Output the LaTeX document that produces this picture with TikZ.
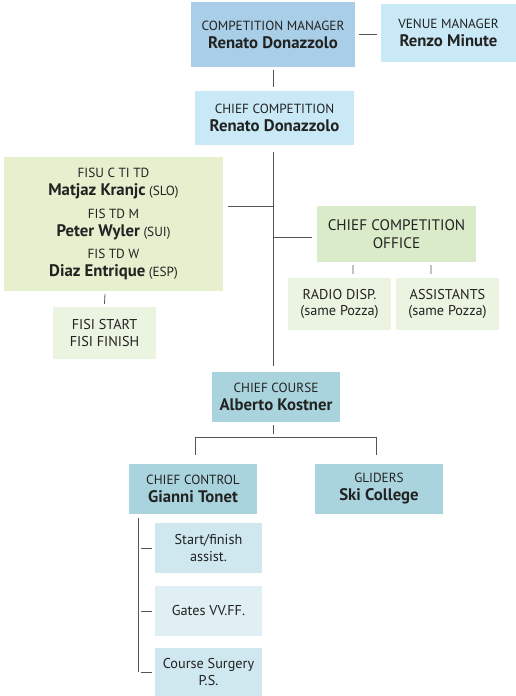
\documentclass[tikz,border=0pt]{standalone}
\usepackage{fontspec}
\setmainfont{PT Sans}
\usetikzlibrary{positioning}
\definecolor{txt}{HTML}{222222}
\definecolor{ln}{HTML}{555555}
\definecolor{cmblue}{HTML}{A8CFE7}
\definecolor{lightblue}{HTML}{C9E9F6}
\definecolor{fisgreen}{HTML}{E6F0CF}
\definecolor{ccogreen}{HTML}{DAEBC9}
\definecolor{palegreen}{HTML}{EBF3E1}
\definecolor{teal}{HTML}{AAD4DD}
\definecolor{paleteal}{HTML}{CFE7EE}
\definecolor{paleteal2}{HTML}{DFEFF4}
\newcommand{\nm}[1]{{\fontsize{16.8}{18}\selectfont\bfseries #1}}
\tikzset{
  box/.style={rectangle, inner sep=0pt, align=center, text=txt,
              font=\fontsize{13.3}{18}\selectfont},
  small/.style={font=\fontsize{14.3}{17}\selectfont},
  conn/.style={draw=ln, line width=0.8pt}
}

\begin{document}
\begin{tikzpicture}[x=1bp,y=-1bp]
   \useasboundingbox (0,0) rectangle (516,696);
   \node[box,fill=cmblue,minimum width=164bp,minimum height=65bp] (cm) at (273,34.5)
        {COMPETITION MANAGER\\ \nm{Renato Donazzolo}};
   \node[box,fill=lightblue,minimum width=135bp,minimum height=58bp] (vm) at (448.5,33)
        {VENUE MANAGER\\ \nm{Renzo Minute}};
   \node[box,fill=lightblue,minimum width=159bp,minimum height=54bp] (cc) at (274.5,118)
        {CHIEF COMPETITION\\ \nm{Renato Donazzolo}};
   \node[box,fill=fisgreen,minimum width=219bp,minimum height=134bp] (fisu) at (113.5,224)
        {FISU C TI TD\\ \nm{Matjaz Kranjc} (SLO)\\[5bp]
         FIS TD M\\ \nm{Peter Wyler} (SUI)\\[5bp]
         FIS TD W\\ \nm{Diaz Entrique} (ESP)};
   \node[box,small,fill=palegreen,minimum width=103bp,minimum height=52bp] (fisi) at (104.5,333)
        {FISI START\\ FISI FINISH};
   \node[box,fill=ccogreen,minimum width=159bp,minimum height=56bp,
         font=\fontsize{15.3}{18}\selectfont] (cco) at (396.5,234)
        {CHIEF COMPETITION\\ OFFICE};
   \node[box,small,fill=palegreen,minimum width=103bp,minimum height=52bp] (radio) at (339.5,304)
        {RADIO DISP.\\ (same Pozza)};
   \node[box,small,fill=palegreen,minimum width=103bp,minimum height=52bp] (assist) at (447.5,304)
        {ASSISTANTS\\ (same Pozza)};
   \node[box,fill=teal,minimum width=128bp,minimum height=50bp] (course) at (276,397)
        {CHIEF COURSE\\ \nm{Alberto Kostner}};
   \node[box,fill=teal,minimum width=128bp,minimum height=50bp] (control) at (193,489)
        {CHIEF CONTROL\\ \nm{Gianni Tonet}};
   \node[box,fill=teal,minimum width=128bp,minimum height=50bp] (gliders) at (379,489)
        {GLIDERS\\ \nm{Ski College}};
   \node[box,small,fill=paleteal,minimum width=107bp,minimum height=50bp] (start) at (208.5,548)
        {Start/finish\\ assist.};
   \node[box,small,fill=paleteal2,minimum width=107bp,minimum height=50bp] (gates) at (208.5,611)
        {Gates VV.FF.};
   \node[box,small,fill=paleteal,minimum width=107bp,minimum height=48bp] (surgery) at (208.5,672)
        {Course Surgery\\ P.S.};
   \coordinate (trunk) at (273,152);
   \coordinate (j1) at (273,206);
   \coordinate (j2) at (273,237);
   \coordinate (sub) at (138,518);
   \draw[conn] ([xshift=4bp,yshift=0.5bp]cm.east) -- ([xshift=-4bp,yshift=-1bp]vm.west);
   \draw[conn] ([yshift=-3bp]cm.south) -- ([yshift=4bp]cc.north -| cm.south);
   \draw[conn] (trunk) -- ([yshift=6bp]trunk |- course.north);
   \draw[conn] (j1) -- ([xshift=5bp]fisu.east |- j1);
   \draw[conn] (j2) -- ([xshift=-5bp]cco.west |- j2);
   \draw[conn] ([xshift=-8.5bp,yshift=-3bp]fisu.south) -- ([yshift=3bp]fisi.north);
   \draw[conn] ([xshift=-43.5bp,yshift=-3bp]cco.south) -- ([xshift=13.5bp,yshift=4bp]radio.north);
   \draw[conn] ([xshift=34.5bp,yshift=-3bp]cco.south) -- ([xshift=-16.5bp,yshift=4bp]assist.north);
   \draw[conn] ([xshift=-3bp,yshift=-3bp]course.south) -- ++(0,9);
   \draw[conn] ([xshift=2bp,yshift=9bp]control.north) -- ++(0,-17)
               -| ([xshift=-3bp,yshift=9bp]gliders.north);
   \draw[conn] (sub) -- (sub |- surgery.west);
   \draw[conn] ([xshift=-3bp]start.west) -- ++(-11,0);
   \draw[conn] ([xshift=-3bp]gates.west) -- ++(-11,0);
   \draw[conn] ([xshift=-3bp]surgery.west) -- ++(-11,0);
\end{tikzpicture}
\end{document}
